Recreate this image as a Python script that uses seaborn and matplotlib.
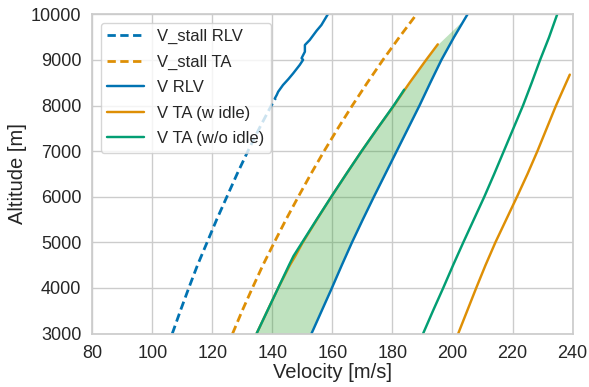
import numpy as np
import matplotlib
matplotlib.use("Agg")
import matplotlib.pyplot as plt
import seaborn as sns

# ---- data ----
alt_half = [3000, 3500, 4000, 4500, 5000, 5500, 6000, 6500, 7000, 7500, 8000, 8500, 9000, 9500, 10000]

# stall speed RLV (dashed part, below ~8150 m)
alt_stall_rlv = [3000, 3500, 4000, 4500, 5000, 5500, 6000, 6500, 7000, 7500, 8000, 8160]
v_stall_rlv = [106.6, 109.3, 112.1, 115.0, 118.2, 121.4, 124.8, 128.2, 131.8, 135.6, 139.6, 141.0]

# stall speed RLV, noisy upper part (appears solid)
alt_stall_rlv_up = [8158, 8230, 8303, 8450, 8580, 8706, 8892, 9002, 9039, 9180, 9327, 9436, 9640, 9765, 10007]
v_stall_rlv_up = [140.8, 141.4, 141.9, 143.5, 145.3, 146.9, 149.1, 150.2, 149.7, 150.8, 150.8, 152.4, 154.7, 156.3, 158.5]

# stall speed TA
v_stall_ta = [126.7, 129.9, 133.3, 136.8, 140.6, 144.5, 148.6, 152.8, 157.2, 161.8, 166.6, 171.6, 176.8, 182.3, 188.0]

# V RLV
v_rlv = [153.0, 156.4, 159.8, 163.1, 166.5, 170.1, 173.8, 177.6, 181.4, 185.2, 189.0, 192.6, 196.3, 200.5, 205.0]

# V TA (w idle): lower branch and upper branch
alt_ta_idle_lo = [3000, 3500, 4000, 4500, 4700, 5000, 5500, 6000, 6500, 7000, 7500, 8000, 8348, 8500, 9000, 9342]
v_ta_idle_lo = [134.7, 138.3, 141.9, 145.8, 147.6, 150.1, 154.8, 159.6, 164.6, 169.7, 175.0, 180.5, 184.1, 185.7, 191.2, 195.1]
alt_ta_idle_hi = [3000, 3500, 4000, 4500, 5000, 5500, 6000, 6500, 7000, 7500, 8000, 8678]
v_ta_idle_hi = [201.9, 204.9, 207.9, 211.0, 214.3, 217.9, 221.5, 225.0, 228.3, 231.4, 234.5, 239.1]

# V TA (w/o idle): lower branch and upper branch
alt_ta_noidle_lo = [3000, 3500, 4000, 4500, 4700, 5000, 5500, 6000, 6500, 7000, 7500, 8000, 8348]
v_ta_noidle_lo = [134.7, 138.3, 141.9, 145.5, 147.0, 149.9, 154.7, 159.6, 164.6, 169.7, 175.0, 180.4, 183.9]
v_ta_noidle_hi = [190.2, 193.5, 196.9, 200.2, 203.6, 207.1, 210.6, 213.9, 217.1, 220.3, 223.5, 226.4, 229.2, 232.2, 234.9]

# shaded region: left boundary
fill_alt = [3000, 3500, 4000, 4500, 4700, 5000, 5500, 6000, 6500, 7000, 7500, 8000, 8348, 8500, 9000, 9342, 9813]
fill_left = [134.7, 138.3, 141.9, 145.5, 147.0, 149.9, 154.7, 159.6, 164.6, 169.7, 175.0, 180.4, 183.9, 185.7, 191.2, 195.1, 202.6]

x_ticks = [80, 100, 120, 140, 160, 180, 200, 220, 240]
y_ticks = [3000, 4000, 5000, 6000, 7000, 8000, 9000, 10000]

# ---- plot ----
sns.set_theme(style="whitegrid")
plt.rcParams["font.family"] = ["Liberation Sans", "DejaVu Sans"]
pal = sns.color_palette("colorblind")
c_blue, c_orange, c_green = pal[0], pal[1], pal[2]

fig = plt.figure(figsize=(5.89, 3.87), dpi=100)
ax = fig.add_axes([0.157, 0.138, 0.815, 0.825])

lw = 1.75
kw = dict(sort=False, estimator=None, ax=ax)
dash = (0, (3.0, 1.6))

sns.lineplot(x=v_stall_rlv, y=alt_stall_rlv, color=c_blue, linestyle=dash, linewidth=2.0,
             label="V_stall RLV", **kw)
sns.lineplot(x=v_stall_ta, y=alt_half, color=c_orange, linestyle=dash, linewidth=2.0,
             label="V_stall TA", **kw)
sns.lineplot(x=v_rlv, y=alt_half, color=c_blue, linewidth=lw, label="V RLV", **kw)
sns.lineplot(x=v_stall_rlv_up, y=alt_stall_rlv_up, color=c_blue, linewidth=lw, legend=False, **kw)
sns.lineplot(x=v_ta_idle_lo, y=alt_ta_idle_lo, color=c_orange, linewidth=lw,
             label="V TA (w idle)", **kw)
sns.lineplot(x=v_ta_idle_hi, y=alt_ta_idle_hi, color=c_orange, linewidth=lw, legend=False, **kw)
sns.lineplot(x=v_ta_noidle_lo, y=alt_ta_noidle_lo, color=c_green, linewidth=lw,
             label="V TA (w/o idle)", **kw)
sns.lineplot(x=v_ta_noidle_hi, y=alt_half, color=c_green, linewidth=lw, legend=False, **kw)

fill_right = np.interp(fill_alt, alt_half, v_rlv)
ax.fill_betweenx(fill_alt, fill_left, fill_right, color="tab:green", alpha=0.3, linewidth=0)

ax.set_xlim(80, 240)
ax.set_ylim(3000, 10000)
ax.set_xticks(x_ticks)
ax.set_yticks(y_ticks)
ax.tick_params(labelsize=13, pad=2)
ax.set_xlabel("Velocity [m/s]", fontsize=14.5, labelpad=1)
ax.set_ylabel("Altitude [m]", fontsize=14.5, labelpad=3)

handles, labels = ax.get_legend_handles_labels()
ax.legend(handles, labels, loc="upper left", fontsize=12, handlelength=2.2,
          borderaxespad=0.5, labelspacing=0.62)

fig.savefig("out.png", dpi=100)
